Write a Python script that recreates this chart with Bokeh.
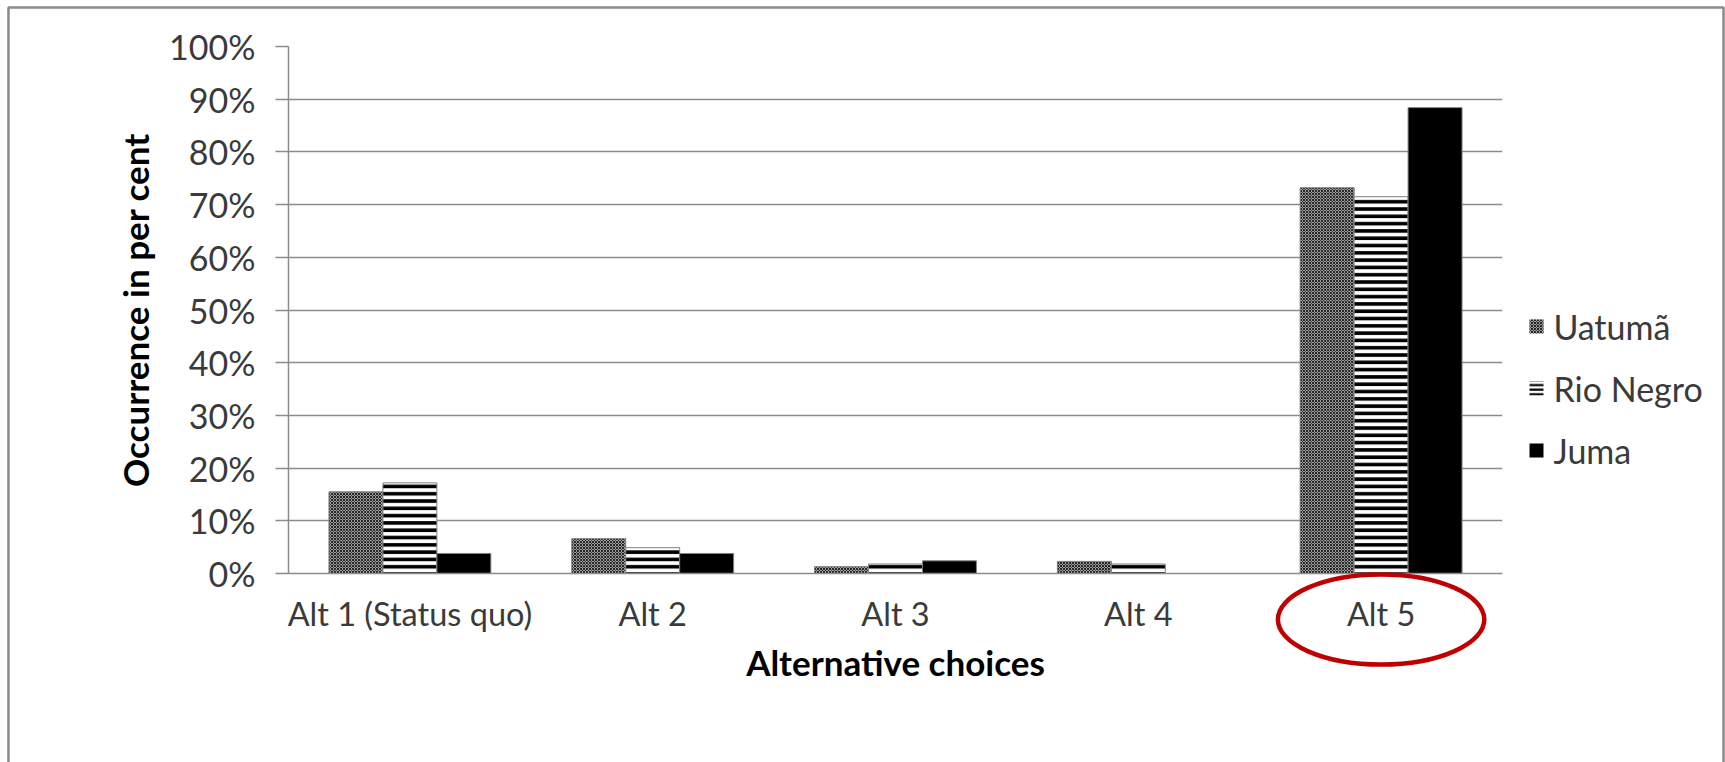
import numpy as np
from bokeh.plotting import figure
from bokeh.models import (ColumnDataSource, FactorRange, Range1d, FixedTicker,
                          PrintfTickFormatter)
from bokeh.core.properties import value
from bokeh.transform import dodge
from bokeh.embed import file_html
from bokeh.resources import INLINE

# Share of respondents choosing each alternative, per region (per cent)
categories = ["Alt 1 (Status quo)", "Alt 2", "Alt 3", "Alt 4", "Alt 5"]
uatuma = [15.5, 6.6, 1.3, 2.3, 73.2]
rio_negro = [17.2, 4.9, 1.8, 1.8, 71.5]
juma = [3.8, 3.8, 2.4, 0.0, 88.4]
series_names = ["Uatumã", "Rio Negro", "Juma"]
y_ticks = [0, 10, 20, 30, 40, 50, 60, 70, 80, 90, 100]
highlighted = "Alt 5"

FONT = "Lato"
GRID = "#8c8c8c"
TXT = "#3a3a3a"

source = ColumnDataSource(dict(cat=categories, u=uatuma, r=rio_negro, j=juma))

W, H = 1725, 762
FL, FR, FT, FB = 288, 1502, 46, 573          # plot frame edges in page pixels
Y0, Y1 = 0, 100
p = figure(width=W, height=H, x_range=FactorRange(*categories, range_padding=0),
           y_range=Range1d(Y0, Y1), output_backend="svg", toolbar_location=None,
           min_border_left=FL, min_border_right=W - FR, min_border_top=FT,
           min_border_bottom=H - FB)


def px_to_x(px):
    return (px - FL) / (FR - FL) * len(categories)


def px_to_y(py):
    return Y0 + (FB - py) / (FB - FT) * (Y1 - Y0)


# fill styles of the three regions
styles = [
    dict(fill_color="#9c9c9c", hatch_pattern="diagonal_cross", hatch_color="#262626",
         hatch_scale=3, hatch_weight=1),
    dict(fill_color="white", hatch_pattern="horizontal_line", hatch_color="black",
         hatch_scale=7.3, hatch_weight=3.6),
    dict(fill_color="black"),
]
# the small legend keys use a finer stripe so that three lines fit
key_styles = [styles[0],
              dict(styles[1], hatch_scale=4.6, hatch_weight=2.2),
              styles[2]]

bw = 1 / 4.5
for col, off, st in zip(["u", "r", "j"], [-bw, 0, bw], styles):
    p.vbar(x=dodge("cat", off, range=p.x_range), top=col, source=source, width=bw,
           bottom=0, line_color="#808080", line_width=1, **st)

# axes
p.yaxis.ticker = FixedTicker(ticks=y_ticks)
p.yaxis.formatter = PrintfTickFormatter(format="%d%%")
p.yaxis.minor_tick_line_color = None
p.yaxis.major_tick_in = 0
p.yaxis.major_tick_out = 13
p.yaxis.major_label_standoff = 20
for ax in (p.xaxis[0], p.yaxis[0]):
    ax.axis_line_color = GRID
    ax.axis_line_width = 1.5
    ax.major_tick_line_color = GRID
    ax.major_tick_line_width = 1.5
    ax.major_label_text_font = FONT
    ax.major_label_text_color = TXT
    ax.axis_label_text_font = FONT
    ax.axis_label_text_font_size = "35px"
    ax.axis_label_text_font_style = "bold"
    ax.axis_label_text_color = "black"
p.yaxis.major_label_text_font_size = "34px"
p.xaxis.major_label_text_font_size = "32.5px"
p.xaxis.major_tick_out = 0
p.xaxis.major_tick_in = 0
p.xaxis.major_label_standoff = 20
p.xaxis.axis_label = "Alternative choices"
p.xaxis.axis_label_standoff = 5
p.yaxis.axis_label = "Occurrence in per cent"
p.yaxis.axis_label_standoff = 10

p.xgrid.grid_line_color = None
p.ygrid.grid_line_color = GRID
p.ygrid.grid_line_width = 1.5
p.ygrid.ticker = FixedTicker(ticks=y_ticks)
p.outline_line_color = None

# legend to the right of the plot area
leg_rows = [326, 388, 450]
for name, st, row in zip(series_names, key_styles, leg_rows):
    p.rect(x=[px_to_x(1536)], y=[px_to_y(row)], width=14, height=14,
           width_units="screen", height_units="screen", line_color=None,
           level="overlay", **st)
    p.text(x=[px_to_x(1553)], y=[px_to_y(row)], text=[name], level="overlay",
           text_font=value(FONT), text_font_size="34px", text_color=TXT,
           text_baseline="middle", text_align="left")

# chart border (open at the bottom edge of the page)
bx = [px_to_x(8), px_to_x(8), px_to_x(1723), px_to_x(1723)]
by = [px_to_y(H + 40), px_to_y(7), px_to_y(7), px_to_y(H + 40)]
p.line(bx, by, line_color="#8a8a8a", line_width=2.5, level="overlay")

# red ring around the highlighted category label
cx = categories.index(highlighted) + 0.5
p.ellipse(x=[cx], y=[px_to_y(619)], width=[0.85],
          height=[px_to_y(574) - px_to_y(664)], fill_alpha=0,
          line_color="#c00000", line_width=4.5, level="overlay")

open("out.html", "w").write(file_html(p, INLINE))
